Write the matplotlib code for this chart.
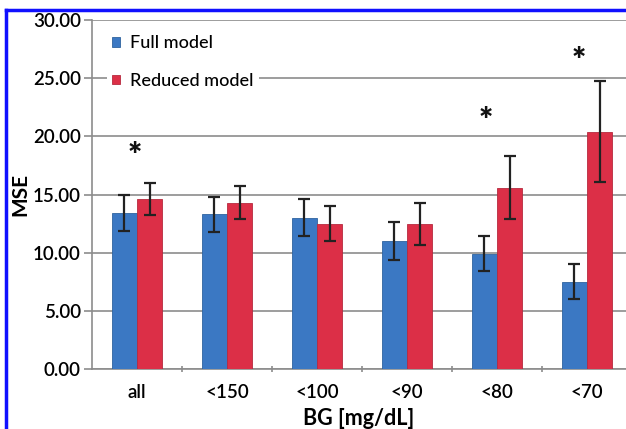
import matplotlib.pyplot as plt
import numpy as np
from matplotlib.lines import Line2D

categories = ['all', '<150', '<100', '<90', '<80', '<70']
full_mse = [13.4, 13.3, 13.0, 11.0, 9.9, 7.5]
full_err = [1.55, 1.5, 1.6, 1.6, 1.5, 1.5]
reduced_mse = [14.6, 14.3, 12.5, 12.5, 15.6, 20.4]
reduced_err = [1.4, 1.4, 1.5, 1.8, 2.7, 4.35]
# significance markers: category index, x shift, height
star_idx = [0, 4, 5]
star_dx = [-0.03, -0.12, -0.09]
star_y = [18.2, 21.2, 26.4]

blue = '#3b78c3'
red = '#dc2f47'
grid_col = '#8c8c8c'

plt.rcParams['font.family'] = ['Lato', 'DejaVu Sans']

fig = plt.figure(figsize=(6.26, 4.29), dpi=100)
ax = fig.add_axes([92 / 626, 1 - 369 / 429, 534 / 626, 349 / 429])

x = np.arange(len(categories))
w = 0.28
err_kw = dict(ecolor='#222222', elinewidth=1.6, capsize=4, capthick=1.6)
ax.bar(x - w / 2, full_mse, w, yerr=full_err, color=blue, edgecolor='#2f639f',
       linewidth=0.6, label='Full model', error_kw=err_kw, zorder=3)
ax.bar(x + w / 2, reduced_mse, w, yerr=reduced_err, color=red, edgecolor='#b72a3e',
       linewidth=0.6, label='Reduced model', error_kw=err_kw, zorder=3)

for i, dx, sy in zip(star_idx, star_dx, star_y):
    ax.text(x[i] + dx, sy, '*', ha='center', va='center',
            fontsize=24, fontweight='heavy', color='#111111')

ax.set_xlim(-0.5, 5.433)
ax.set_ylim(0, 30)
ax.set_yticks(np.arange(0, 31, 5))
ax.set_yticklabels([f'{v:.2f}' for v in np.arange(0, 31, 5)])
ax.yaxis.grid(True, color=grid_col, linewidth=1.2, zorder=0)
ax.set_axisbelow(True)

ax.set_xticks(x)
ax.set_xticklabels(categories)
ax.set_xticks(np.arange(0.5, 5.0, 1), minor=True)
ax.tick_params(axis='x', which='major', length=0, pad=11, labelsize=13.5)
ax.tick_params(axis='x', which='minor', length=5, width=1.2, color=grid_col, direction='inout')
ax.tick_params(axis='y', length=6, width=1.2, color=grid_col, labelsize=13.5, pad=2)
for lbl in ax.get_yticklabels() + ax.get_xticklabels():
    lbl.set_fontweight('semibold')

for side in ('top', 'right'):
    ax.spines[side].set_visible(False)
for side in ('left', 'bottom'):
    ax.spines[side].set_color(grid_col)
    ax.spines[side].set_linewidth(1.2)

ax.set_ylabel('MSE', fontsize=15, fontweight='bold', labelpad=2)
ax.set_xlabel('BG [mg/dL]', fontsize=15.5, fontweight='bold', labelpad=5)

leg = ax.legend(loc='upper left', bbox_to_anchor=(0.028, 0.972), frameon=True,
                facecolor='white', edgecolor='none', framealpha=1,
                fontsize=13, handlelength=0.45, handleheight=0.45,
                handletextpad=0.55, labelspacing=1.2, borderpad=0.3,
                borderaxespad=0)
leg.get_frame().set_linewidth(0)
for t in leg.get_texts():
    t.set_fontweight('medium')

# blue frame around the figure
fig.add_artist(Line2D([6 / 626, 6 / 626], [0, 1 - 10 / 429], color='#1010ff',
                      linewidth=2.5, transform=fig.transFigure))
fig.add_artist(Line2D([6 / 626, 1], [1 - 10 / 429, 1 - 10 / 429], color='#1010ff',
                      linewidth=2.5, transform=fig.transFigure))

fig.savefig('out.png', dpi=100)
